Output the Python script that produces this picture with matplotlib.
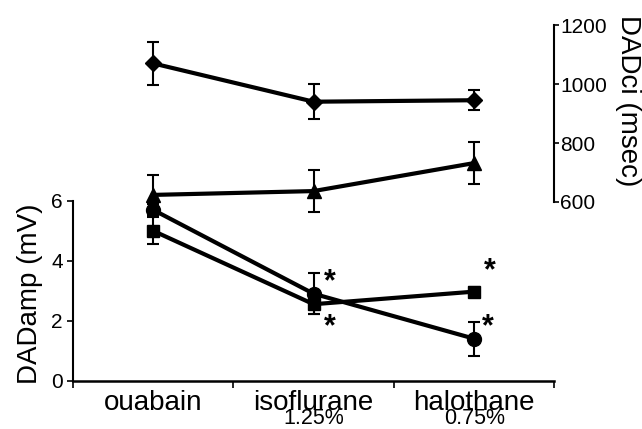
import matplotlib
matplotlib.use("Agg")
import matplotlib.pyplot as plt

plt.rcParams['font.family'] = ['Liberation Sans', 'DejaVu Sans']

# groups
groups = ['ouabain', 'isoflurane', 'halothane']
doses = ['', '1.25%', '0.75%']

# DADamp (mV), left axis
amp_circle = [5.7, 2.9, 1.4]
amp_circle_err = [0.2, 0.68, 0.57]
amp_square = [5.0, 2.55, 2.97]
amp_square_err = [0.45, 0.34, 0.15]

# DADci (msec), right axis
ci_diamond = [1070, 940, 945]
ci_diamond_err = [72, 60, 33]
ci_triangle = [624, 637, 732]
ci_triangle_err = [66, 70, 70]

xpos = [i + 0.5 for i in range(len(groups))]

fig = plt.figure(figsize=(6.42, 4.29), dpi=100)
ax = fig.add_axes([0.1132, 0.1126, 0.7505, 0.8291])
ax2 = ax.twinx()

common = dict(color='black', lw=3, elinewidth=1.5, capsize=4.5, capthick=1.5)
ax.errorbar(xpos, amp_circle, yerr=amp_circle_err, marker='o', ms=10, **common)
ax.errorbar(xpos, amp_square, yerr=amp_square_err, marker='s', ms=9, **common)
ax2.errorbar(xpos, ci_diamond, yerr=ci_diamond_err, marker='D', ms=8, **common)
ax2.errorbar(xpos, ci_triangle, yerr=ci_triangle_err, marker='^', ms=10, **common)

# significance stars (series, group index, offset in points)
stars = [(amp_circle, 1, 11.5, 8), (amp_square, 1, 12, -16.5),
         (amp_square, 2, 11, 15), (amp_circle, 2, 10, 8.5)]
for series, i, dx, dy in stars:
    ax.annotate('*', xy=(xpos[i], series[i]), xytext=(dx, dy),
                textcoords='offset points', ha='center', va='center',
                fontsize=22, fontweight='bold')

ax.set_xlim(0, 3)
ax.set_ylim(0, 11.86)
ax2.set_ylim(-5.8, 1200)

ax.set_yticks([0, 2, 4, 6])
ax2.set_yticks([600, 800, 1000, 1200])
ax.set_xticks([0, 1, 2, 3])
ax.set_xticklabels([])

for i, (g, d) in enumerate(zip(groups, doses)):
    ax.annotate(g, xy=(xpos[i], 0), xycoords=('data', 'axes fraction'),
                xytext=(0, -21), textcoords='offset points',
                ha='center', va='baseline', fontsize=20)
    if d:
        ax.annotate(d, xy=(xpos[i], 0), xycoords=('data', 'axes fraction'),
                    xytext=(0, -31.5), textcoords='offset points',
                    ha='center', va='baseline', fontsize=15.5)

for a in (ax, ax2):
    a.spines['top'].set_visible(False)
ax.spines['right'].set_visible(False)
ax2.spines['left'].set_visible(False)
ax2.spines['bottom'].set_visible(False)
ax.spines['left'].set_bounds(0, 6)
ax2.spines['right'].set_bounds(600, 1200)
ax.spines['left'].set_linewidth(1.5)
ax2.spines['right'].set_linewidth(1.5)
ax.spines['bottom'].set_linewidth(1.8)

ax.tick_params(axis='y', length=4.5, width=1.2, pad=2.5, labelsize=15)
ax.tick_params(axis='x', length=5, width=1.2)
ax2.tick_params(axis='y', length=3.5, width=1.2, pad=0.5, labelsize=15)

ax.set_ylabel('DADamp (mV)', fontsize=20, va='center', ha='center')
ax.yaxis.set_label_coords(-0.0886, 0.2437)
ax2.set_ylabel('DADci (msec)', fontsize=20, rotation=270, va='center', ha='center')
ax2.yaxis.set_label_coords(1.1526, 0.786)

fig.savefig('out.png', dpi=100)
